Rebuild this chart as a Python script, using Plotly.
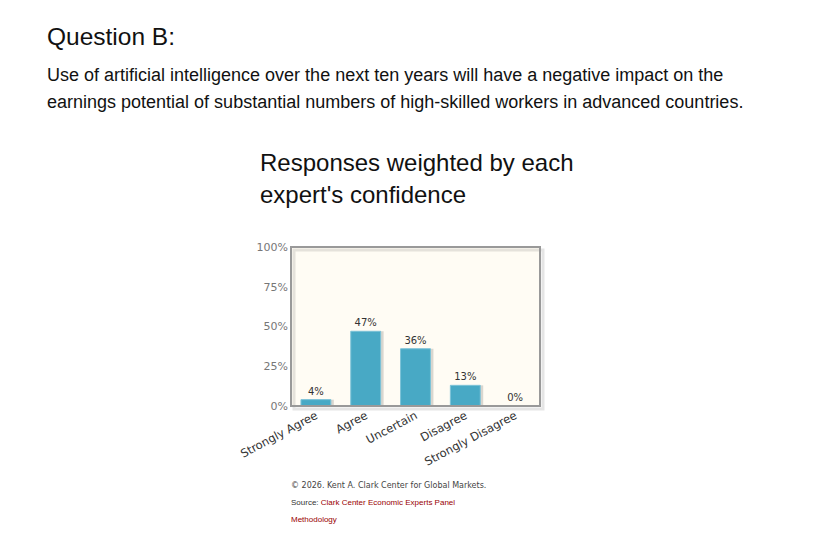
import plotly.graph_objects as go

# responses weighted by confidence
categories = ['Strongly Agree', 'Agree', 'Uncertain', 'Disagree', 'Strongly Disagree']
shares = [4, 47, 36, 13, 0]
y_ticks = [0, 25, 50, 75, 100]
y_tick_labels = ['0%', '25%', '50%', '75%', '100%']

bar_color = '#48a9c5'

# plot box in figure pixels (page has an 8px body margin)
L, T, R, B = 283, 239, 532, 398
W, H = R - L, B - T


def px(x):
    return (x - L) / W


def py(y):
    return (B - y) / H


fig = go.Figure()

# soft shadow behind each bar
fig.add_trace(go.Bar(
    x=categories, y=shares, width=0.6, offset=-0.24,
    marker=dict(color='rgba(0,0,0,0.15)', line=dict(width=0)),
    hoverinfo='skip', showlegend=False))

fig.add_trace(go.Bar(
    x=categories, y=shares, width=0.6, offset=-0.3,
    marker=dict(color=bar_color, line=dict(color='#7cc3d8', width=1)),
    text=[f'{v}%' for v in shares], textposition='outside',
    textfont=dict(family='DejaVu Sans', size=10, color='#333333'),
    cliponaxis=False, showlegend=False))

fig.update_layout(
    width=832, height=549,
    margin=dict(l=L, r=832 - R, t=T, b=549 - B, autoexpand=False),
    paper_bgcolor='white', plot_bgcolor='#fffcf4',
    barmode='overlay',
    font=dict(family='DejaVu Sans', size=10, color='#555555'),
    xaxis=dict(tickangle=-28, showgrid=False, zeroline=False, ticks='',
               tickfont=dict(family='DejaVu Sans', size=11.5, color='#333333'),
               showline=False, automargin=False),
    yaxis=dict(range=[0, 100], tickvals=y_ticks, ticktext=y_tick_labels,
               showgrid=False, zeroline=False, ticks='', showline=False,
               tickfont=dict(family='DejaVu Sans', size=11, color='#777777'),
               ticklabelstandoff=2, automargin=False),
)

# frame with a drop shadow
fig.add_shape(type='rect', xref='paper', yref='paper',
              x0=px(L + 3), y0=py(B + 3), x1=px(R + 3), y1=py(T + 3),
              line=dict(color='rgba(0,0,0,0.10)', width=3), layer='below')
fig.add_shape(type='rect', xref='paper', yref='paper', x0=0, y0=0, x1=1, y1=1,
              line=dict(color='#999999', width=2))


def note(text, x, y, size, color='#111111', family='Liberation Sans'):
    fig.add_annotation(text=text, xref='paper', yref='paper', x=px(x), y=py(y),
                       xanchor='left', yanchor='middle', align='left', showarrow=False,
                       font=dict(family=family, size=size, color=color))


# page text
note('Question B:', 37, 29, 24.5)
note('Use of artificial intelligence over the next ten years will have a negative impact on the', 37, 67, 18)
note('earnings potential of substantial numbers of high-skilled workers in advanced countries.', 37, 94, 18)
note('Responses weighted by each', 250, 154, 24)
note("expert's confidence", 250, 186, 24)
note('© 2026. Kent A. Clark Center for Global Markets.', 281, 477, 8, '#444444', 'DejaVu Sans')
note('Source: <span style="color:#990000">Clark Center Economic Experts Panel</span>', 281, 494, 8, '#333333')
note('Methodology', 281, 511, 8, '#990000')

fig.write_html('out.html')
